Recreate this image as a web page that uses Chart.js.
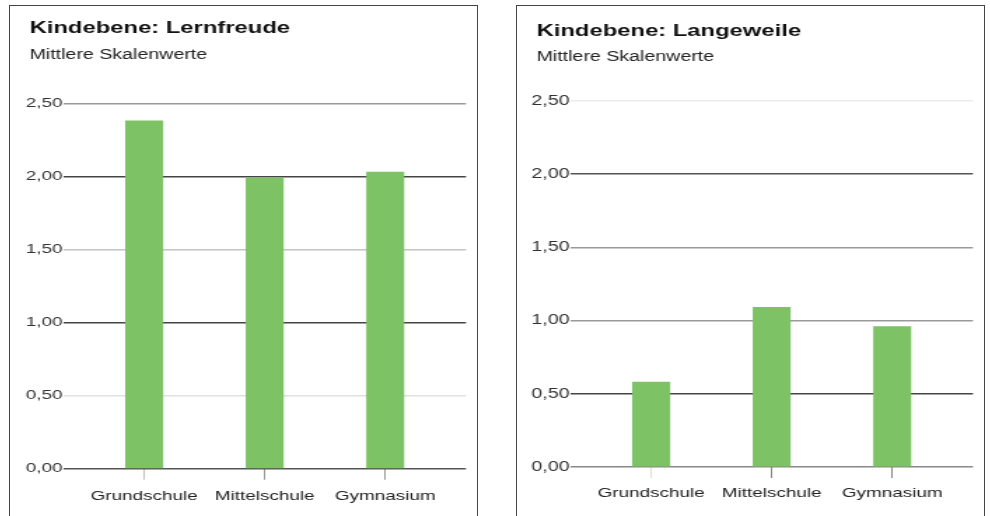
<!DOCTYPE html>
<html><head><meta charset="utf-8">
<script src="https://cdn.jsdelivr.net/npm/chart.js@4.4.0/dist/chart.umd.min.js"></script>
<style>
html,body{margin:0;padding:0;background:#fff;width:990px;height:516px;overflow:hidden;position:relative}
.box{position:absolute;top:5px;width:467px;height:600px;border:1px solid #444;box-sizing:content-box}
.wrap{position:absolute;top:0;width:334px;height:516px;transform:scaleX(1.4);transform-origin:0 0}
canvas{display:block}
</style></head>
<body>
<div class="box" style="left:9px"></div>
<div class="box" style="left:516px"></div>
<div class="wrap" style="left:9px"><canvas id="c1" width="334" height="516" style="width:334px;height:516px"></canvas></div>
<div class="wrap" style="left:516px"><canvas id="c2" width="334" height="516" style="width:334px;height:516px"></canvas></div>
<script>
const categories = ['Grundschule', 'Mittelschule', 'Gymnasium'];
const lernfreudeValues = [2.38, 1.99, 2.03];
const langeweileValues = [0.58, 1.09, 0.96];
const yTickValues = [0, 0.5, 1, 1.5, 2, 2.5];
const subtitleText = 'Mittlere Skalenwerte';

const FONT = "'Liberation Sans', Arial, sans-serif";
const BAR_COLOR = '#7dc265';

const shiftTitles = {
  id: 'shiftTitles',
  afterLayout(chart, args, opts) {
    chart.boxes.forEach(b => {
      if (b.options && typeof b.options.text === 'string') {
        b.left += opts.dx; b.right += opts.dx;
      }
    });
  }
};

function makeChart(id, title, values, cfg) {
  return new Chart(document.getElementById(id), {
    type: 'bar',
    data: {
      datasets: [{
        data: values.map((v, i) => ({ x: i, y: v })),
        backgroundColor: BAR_COLOR,
        borderWidth: 0,
        barThickness: 26.5
      }]
    },
    plugins: [shiftTitles],
    options: {
      responsive: false,
      animation: false,
      devicePixelRatio: 1,
      layout: { padding: { left: 10, right: 7.6, top: 0, bottom: 0 } },
      plugins: {
        legend: { display: false },
        tooltip: { enabled: false },
        shiftTitles: { dx: 4.7 },
        title: {
          display: true, text: title, align: 'start', color: '#111',
          font: { family: FONT, size: 17, weight: 'bold' },
          padding: { top: cfg.titleTop, bottom: 4 }
        },
        subtitle: {
          display: true, text: subtitleText, align: 'start', color: '#222',
          font: { family: FONT, size: 14 },
          padding: { top: cfg.subTop, bottom: cfg.subBottom }
        }
      },
      scales: {
        x: {
          type: 'linear', min: -0.665, max: 2.67, offset: false,
          afterBuildTicks: s => { s.ticks = categories.map((c, i) => ({ value: i })); },
          afterFit: s => { s.height = cfg.xHeight; },
          grid: { offset: false, drawOnChartArea: false, drawTicks: true, tickLength: 11,
                  color: c => cfg.xTickColors[c.index] || '#999', lineWidth: 1 },
          border: { display: false },
          ticks: { callback: v => categories[v], autoSkip: false, maxRotation: 0, minRotation: 0,
                   padding: cfg.xPad, color: '#222', font: { family: FONT, size: 13.5 } }
        },
        y: {
          min: 0, max: 2.5,
          afterBuildTicks: s => { s.ticks = yTickValues.map(v => ({ value: v })); },
          afterFit: s => { s.width = 29.3; },
          grid: { drawTicks: false, color: c => cfg.gridColors[c.index] || '#999', lineWidth: 1.5 },
          border: { display: false },
          ticks: { padding: 1, callback: v => v.toFixed(2).replace('.', ','),
                   color: '#333', font: { family: FONT, size: cfg.ySize } }
        }
      }
    }
  });
}

makeChart('c1', 'Kindebene: Lernfreude', lernfreudeValues, {
  titleTop: 18.1, subTop: 3.8, subBottom: 40.2, xHeight: 47.3, ySize: 13.5, xPad: 8,
  gridColors: ['#555', '#e0e0e0', '#444', '#c4c4c4', '#444', '#999'],
  xTickColors: ['#c0c0c0', '#999', '#999']
});
makeChart('c2', 'Kindebene: Langeweile', langeweileValues, {
  titleTop: 21.1, subTop: 2.8, subBottom: 35.9, xHeight: 49, ySize: 14, xPad: 7,
  gridColors: ['#888', '#444', '#999', '#999', '#555', '#ececec'],
  xTickColors: ['#ddd', '#888', '#888']
});
</script>
</body></html>
